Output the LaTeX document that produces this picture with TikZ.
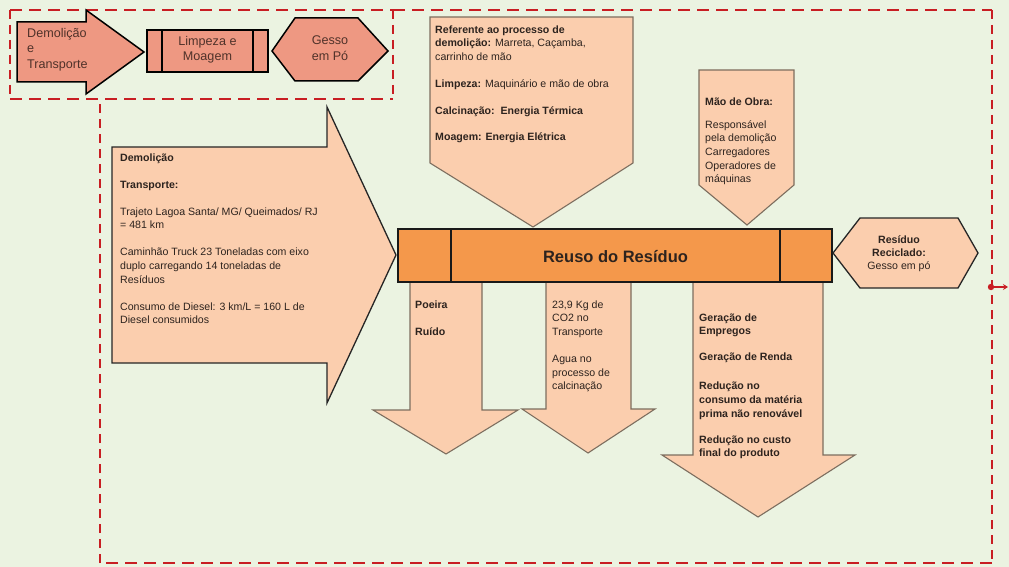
\documentclass[tikz,border=0pt]{standalone}
\usepackage{fontspec}
\setmainfont{Liberation Sans}
\usetikzlibrary{arrows.meta}
\definecolor{bg}{RGB}{235,243,225}
\definecolor{peach}{RGB}{251,206,174}
\definecolor{salmon}{RGB}{238,152,130}
\definecolor{barorange}{RGB}{244,152,75}
\definecolor{dashred}{RGB}{200,30,35}
\definecolor{edge}{RGB}{125,110,95}
\definecolor{txt}{RGB}{45,35,30}
\definecolor{txtb}{RGB}{80,50,42}
\begin{document}
\begin{tikzpicture}[x=1pt,y=-1pt,
  frameh/.style={draw=dashred,line width=2.6pt,dash pattern=on 12pt off 7pt},
  framev/.style={draw=dashred,line width=2.6pt,dash pattern=on 9pt off 6pt},
  salmonshape/.style={fill=salmon,draw=black,line width=1.5pt,line join=miter},
  peachshape/.style={fill=peach,draw=edge,line width=1.1pt,line join=miter},
  darkpeach/.style={fill=peach,draw=black!85,line width=1.3pt,line join=miter},
  barshape/.style={fill=barorange,draw=black!90,line width=1.3pt},
  txtnode/.style={font=\fontsize{10.6}{13.6}\selectfont,text=txt,inner sep=0pt,anchor=north west,align=left,execute at begin node={\rule{0pt}{9.5pt}}},
  toptxt/.style={font=\fontsize{12.6}{15.5}\selectfont,text=txtb,inner sep=0pt,anchor=north,align=center,execute at begin node={\rule{0pt}{11pt}}},
  redarrow/.style={draw=dashred,line width=1.8pt,-{Stealth[length=5pt,width=6pt]}}]
\useasboundingbox (0,0) rectangle (1009,567);
\fill[bg] (0,0) rectangle (1009,567);

% dashed frames
\draw[frameh] (10,10) -- (393,10);
\draw[frameh] (10,99) -- (393,99);
\draw[framev] (10,10) -- (10,99);
\draw[framev] (393,10) -- (393,99);
\draw[frameh] (393,10) -- (992,10);
\draw[framev] (992,10) -- (992,563);
\draw[frameh] (992,563) -- (100,563);
\draw[framev] (100,563) -- (100,99);

% small red connector
\coordinate (dot) at (991,287);
\coordinate (dotend) at (1008,287);
\fill[dashred] (dot) circle (3.2pt);
\draw[redarrow] (dot) -- (dotend);

% top-left flow
\path[salmonshape] (17,22) -- (86,22) -- (86,10) -- (144,52) -- (86,94) -- (86,82) -- (17,82) -- cycle;
\node[toptxt,anchor=north west,align=left] (demo) at (27,28) {Demolição\\e\\Transporte};
\path[salmonshape] (147,30) rectangle (268,72);
\draw[black,line width=1.5pt] (162,30) -- (162,72) (253,30) -- (253,72);
\node[toptxt] (limp) at (207.5,36) {Limpeza e\\Moagem};
\path[salmonshape] (272,51) -- (295,18) -- (358,18) -- (388,51) -- (358,81) -- (295,81) -- cycle;
\node[toptxt] (gesso) at (330,36) {Gesso\\em Pó};

% big left arrow
\path[darkpeach] (112,147) -- (327,147) -- (327,107) -- (396,255) -- (327,403) -- (327,363) -- (112,363) -- cycle;
\node[txtnode] (left) at (120,153.5) {\textbf{Demolição}\\[13.4pt]
\textbf{Transporte:}\\[13.4pt]
Trajeto Lagoa Santa/ MG/ Queimados/ RJ\\
= 481 km\\[13.4pt]
Caminhão Truck 23 Toneladas com eixo\\
duplo carregando 14 toneladas de\\
Resíduos\\[13.4pt]
Consumo de Diesel: 3 km/L = 160 L de\\
Diesel consumidos};

% top down arrow
\path[peachshape] (430,17) -- (633,17) -- (633,163) -- (533,227) -- (430,163) -- cycle;
\node[txtnode] (ref) at (435,25.5) {\textbf{Referente ao processo de}\\
\textbf{demolição:} Marreta, Caçamba,\\
carrinho de mão\\[13.4pt]
\textbf{Limpeza:} Maquinário e mão de obra\\[13.4pt]
\textbf{Calcinação:\ \ Energia Térmica}\\[12.4pt]
\textbf{Moagem: Energia Elétrica}};

% mao de obra arrow
\path[peachshape] (699,70) -- (794,70) -- (794,185) -- (747,225) -- (699,185) -- cycle;
\node[txtnode] (mao) at (705,97.5) {\textbf{Mão de Obra:}\\[9.4pt]
Responsável\\
pela demolição\\
Carregadores\\
Operadores de\\
máquinas};

% down arrows
\path[peachshape] (410,282) -- (482,282) -- (482,410) -- (518,410) -- (446,454) -- (373,410) -- (410,410) -- cycle;
\path[peachshape] (546,282) -- (631,282) -- (631,409) -- (655,409) -- (588,453) -- (522,409) -- (546,409) -- cycle;
\path[peachshape] (693,282) -- (823,282) -- (823,455) -- (855,455) -- (758,517) -- (662,455) -- (693,455) -- cycle;
\node[txtnode] (poeira) at (415,300.5) {\textbf{Poeira}\\[13.4pt]\textbf{Ruído}};
\node[txtnode] (co2) at (552,300.5) {23,9 Kg de\\
CO2 no\\
Transporte\\[13.4pt]
Agua no\\
processo de\\
calcinação};
\node[txtnode,font=\bfseries\fontsize{10.6}{13.6}\selectfont] (ger) at (699,313.5) {Geração de\\
Empregos\\[12.4pt]
Geração de Renda\\[15.4pt]
Redução no\\
consumo da matéria\\
prima não renovável\\[12.4pt]
Redução no custo\\
final do produto};

% central bar
\path[barshape] (398,229) rectangle (832,282);
\draw[black!90,line width=1.3pt] (451,229) -- (451,282) (780,229) -- (780,282);
\node[font=\bfseries\fontsize{16.5}{18}\selectfont,text=txt,inner sep=0pt,anchor=base] (reuso) at (615.5,262) {Reuso do Resíduo};

% right hexagon
\path[darkpeach] (833,253) -- (860,218) -- (958,218) -- (978,253) -- (958,288) -- (860,288) -- cycle;
\node[font=\fontsize{10.6}{13.2}\selectfont,text=txt,inner sep=0pt,anchor=north,align=center,execute at begin node={\rule{0pt}{9.5pt}}] (resid) at (899,235.5) {\textbf{Resíduo}\\\textbf{Reciclado:}\\Gesso em pó};
\end{tikzpicture}
\end{document}
